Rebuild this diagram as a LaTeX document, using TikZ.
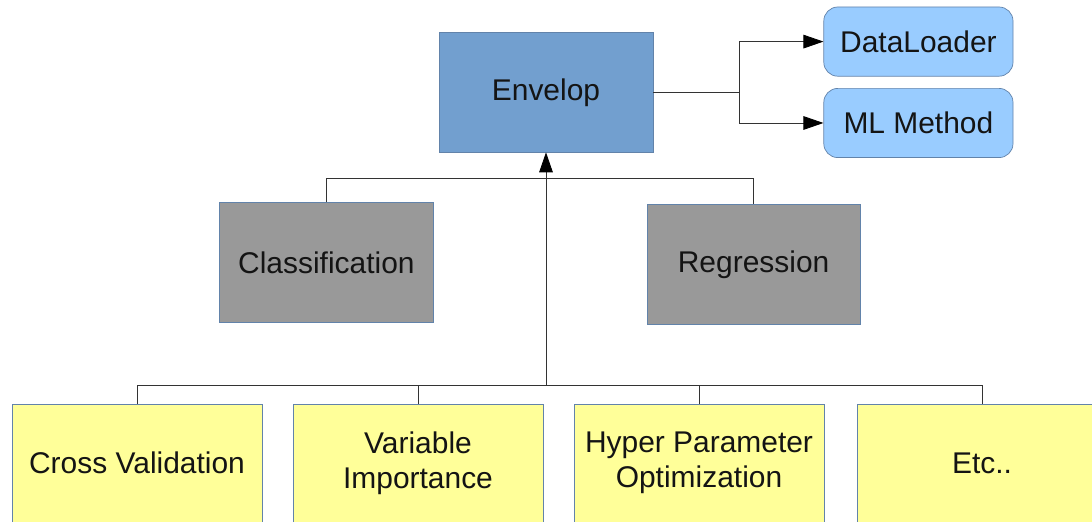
\documentclass[tikz,border=0pt]{standalone}
\usepackage{fontspec}
\setmainfont{Liberation Sans}
\usepackage{tikz}
\usetikzlibrary{arrows.meta, positioning, calc}
\definecolor{envblue}{HTML}{729FCF}
\definecolor{boxline}{HTML}{6283AA}
\definecolor{lightblue}{HTML}{99CCFF}
\definecolor{boxgray}{HTML}{999999}
\definecolor{boxyellow}{HTML}{FFFF99}

\begin{document}
\begin{tikzpicture}[
    box/.style={draw=boxline, line width=0.5pt, align=center, inner sep=0pt,
                font=\fontsize{21.3}{25}\selectfont, text=black!92},
    envbox/.style={box, fill=envblue, minimum width=5.35cm, minimum height=2.98cm},
    databox/.style={box, fill=lightblue, rounded corners=0.35cm, minimum width=4.73cm, minimum height=1.73cm},
    taskbox/.style={box, fill=boxgray, minimum width=5.33cm, minimum height=2.98cm},
    toolbox/.style={box, fill=boxyellow, minimum width=6.25cm, minimum height=2.95cm},
    link/.style={draw=black!80, line width=0.6pt},
    arr/.style={link, -{Triangle[length=0.5cm, width=0.34cm, color=black]}}
]
    \clip (0,0) rectangle (27.3,13.05);
    \fill[white] (0,0) rectangle (27.3,13.05);

    % Top: envelop and its inputs
    \node[envbox]  (env) at (13.65,10.74) {Envelop};
    \node[databox] (dl)  at (22.96,12.01) {DataLoader};
    \node[databox] (ml)  at (22.96,9.975) {ML Method};

    % Middle: task types
    \node[taskbox] (cls) at (8.16,6.49)  {Classification};
    \node[taskbox] (reg) at (18.84,6.44) {Regression};

    % Bottom: tools
    \node[toolbox] (cv)  at (3.425,1.475)  {Cross Validation};
    \node[toolbox] (vi)  at (10.45,1.475)  {Variable\\Importance};
    \node[toolbox] (hp)  at (17.475,1.475) {Hyper Parameter\\Optimization};
    \node[toolbox] (etc) at (24.55,1.475)  {Etc..};

    % Helper points
    \coordinate (fork)   at (18.475,10.74);
    \coordinate (topbus) at (13.65,8.6);
    \coordinate (bus)    at (13.65,3.425);

    % Envelop -> DataLoader / ML Method
    \draw[link] (env.east) -- (fork);
    \draw[arr] (fork) |- (dl.west);
    \draw[arr] (fork) |- (ml.west);

    % Classification -- Regression
    \draw[link] (cls.north) -- (cls.north |- topbus) -| (reg.north);

    % Tools -> Envelop
    \draw[link] (cv.north) -- (cv.north |- bus) -| (etc.north);
    \draw[link] (vi.north) -- (vi.north |- bus);
    \draw[link] (hp.north) -- (hp.north |- bus);
    \draw[arr] (bus) -- (env.south);
\end{tikzpicture}
\end{document}
